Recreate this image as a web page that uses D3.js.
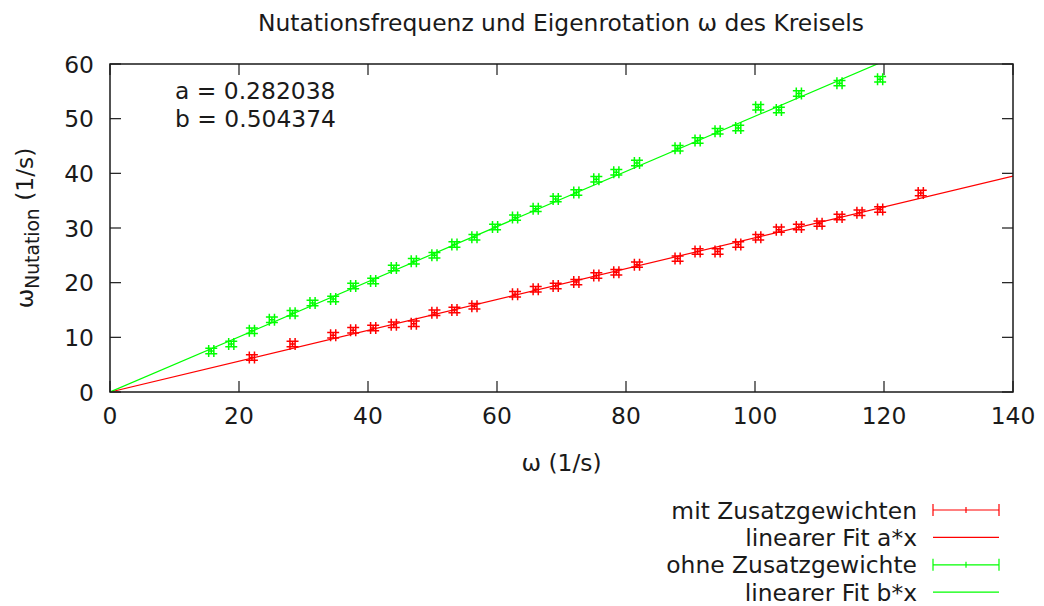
<!DOCTYPE html>
<html>
<head>
<meta charset="utf-8">
<script src="https://cdn.jsdelivr.net/npm/d3@7"></script>
<style>
  html, body { margin: 0; padding: 0; background: #fff; }
  svg { display: block; font-family: "DejaVu Sans", sans-serif; }
</style>
</head>
<body>
<div id="chart"></div>
<script>
// Nutation frequency vs. spin rate of the gyroscope, gnuplot-style, drawn with D3.
(function () {
  "use strict";

  // mit Zusatzgewichten
  var omegaRed = [22.0, 28.3, 34.6, 37.7, 40.8, 44.0, 47.1, 50.3, 53.4, 56.5,
    62.8, 66.0, 69.1, 72.3, 75.4, 78.5, 81.7, 88.0, 91.1, 94.2,
    97.4, 100.5, 103.7, 106.8, 110.0, 113.1, 116.2, 119.4, 125.7];
  var nutRed = [6.3, 8.8, 10.4, 11.3, 11.7, 12.3, 12.5, 14.5, 15.0, 15.7,
    17.9, 18.8, 19.4, 20.1, 21.3, 21.9, 23.3, 24.4, 25.7, 25.7,
    27.0, 28.3, 29.7, 30.2, 30.8, 32.0, 32.8, 33.4, 36.4];

  // ohne Zusatzgewichte
  var omegaGreen = [15.7, 18.8, 22.0, 25.1, 28.3, 31.4, 34.6, 37.7, 40.8, 44.0,
    47.1, 50.3, 53.4, 56.5, 59.7, 62.8, 66.0, 69.1, 72.3, 75.4,
    78.5, 81.7, 88.0, 91.1, 94.2, 97.4, 100.5, 103.7, 106.8, 113.1, 119.4];
  var nutGreen = [7.5, 8.8, 11.2, 13.2, 14.4, 16.3, 17.0, 19.4, 20.3, 22.7,
    23.9, 25.0, 27.0, 28.3, 30.2, 31.9, 33.5, 35.3, 36.5, 38.9,
    40.2, 41.9, 44.6, 46.0, 47.7, 48.3, 52.1, 51.6, 54.6, 56.5, 57.2];

  // measurement uncertainty (same for every point)
  var omegaErr = 0.4;
  var nutErr = 0.5;

  var fitA = 0.282038;
  var fitB = 0.504374;

  var xTicks = [0, 20, 40, 60, 80, 100, 120, 140];
  var yTicks = [0, 10, 20, 30, 40, 50, 60];

  var legendLabels = ["mit Zusatzgewichten", "linearer Fit a*x",
    "ohne Zusatzgewichte", "linearer Fit b*x"];

  var W = 1044, H = 606;
  var m = { left: 110, right: 1013, top: 64, bottom: 392 };
  var RED = "#ff0000", GREEN = "#00ff00", INK = "#1a1a1a";
  var FS = 23.4;
  var CAP = 6;

  var svg = d3.select("#chart").append("svg")
    .attr("width", W).attr("height", H);

  var x = d3.scaleLinear().domain([0, 140]).range([m.left, m.right]);
  var y = d3.scaleLinear().domain([0, 60]).range([m.bottom, m.top]);

  svg.append("defs").append("clipPath").attr("id", "plot-clip")
    .append("rect")
    .attr("x", m.left).attr("y", m.top)
    .attr("width", m.right - m.left).attr("height", m.bottom - m.top);

  // title
  svg.append("text")
    .attr("x", 561).attr("y", 31)
    .attr("text-anchor", "middle")
    .attr("font-size", FS).attr("fill", INK)
    .text("Nutationsfrequenz und Eigenrotation ω des Kreisels");

  // ticks: bottom/top and left/right (mirrored, inward)
  var tickLen = 11;
  var ticks = svg.append("g").attr("stroke", INK).attr("stroke-width", 1.2);
  xTicks.forEach(function (t) {
    ticks.append("line").attr("x1", x(t)).attr("x2", x(t))
      .attr("y1", m.bottom).attr("y2", m.bottom - tickLen);
    ticks.append("line").attr("x1", x(t)).attr("x2", x(t))
      .attr("y1", m.top).attr("y2", m.top + tickLen);
  });
  yTicks.forEach(function (t) {
    ticks.append("line").attr("x1", m.left).attr("x2", m.left + tickLen)
      .attr("y1", y(t)).attr("y2", y(t));
    ticks.append("line").attr("x1", m.right).attr("x2", m.right - tickLen)
      .attr("y1", y(t)).attr("y2", y(t));
  });

  svg.append("g").selectAll("text").data(xTicks).join("text")
    .attr("x", function (d) { return x(d); })
    .attr("y", m.bottom + 32)
    .attr("text-anchor", "middle")
    .attr("font-size", FS).attr("fill", INK)
    .text(function (d) { return d; });

  svg.append("g").selectAll("text").data(yTicks).join("text")
    .attr("x", m.left - 16)
    .attr("y", function (d) { return y(d) + 8.5; })
    .attr("text-anchor", "end")
    .attr("font-size", FS).attr("fill", INK)
    .text(function (d) { return d; });

  // axis labels
  svg.append("text")
    .attr("x", x(70)).attr("y", 471)
    .attr("text-anchor", "middle")
    .attr("font-size", FS).attr("fill", INK)
    .text("ω (1/s)");

  var ylab = svg.append("text")
    .attr("transform", "translate(33,228) rotate(-90)")
    .attr("text-anchor", "middle")
    .attr("font-size", FS).attr("fill", INK);
  ylab.append("tspan").text("ω");
  ylab.append("tspan").attr("font-size", FS * 0.8).attr("dy", 6).text("Nutation");
  ylab.append("tspan").attr("dy", -6).text(" (1/s)");

  // fit parameters
  svg.append("text").attr("x", 175).attr("y", 99)
    .attr("font-size", FS).attr("fill", INK).text("a = " + fitA);
  svg.append("text").attr("x", 175).attr("y", 127)
    .attr("font-size", FS).attr("fill", INK).text("b = " + fitB);

  var plot = svg.append("g").attr("clip-path", "url(#plot-clip)");

  function errorBars(xs, ys, color) {
    var g = plot.append("g").attr("stroke", color).attr("stroke-width", 1.5)
      .attr("fill", "none");
    xs.forEach(function (xv, i) {
      var cx = x(xv), cy = y(ys[i]);
      var x0 = x(xv - omegaErr), x1 = x(xv + omegaErr);
      var y0 = y(ys[i] - nutErr), y1 = y(ys[i] + nutErr);
      var p = "M" + x0 + "," + cy + "H" + x1 +
        "M" + x0 + "," + (cy - CAP) + "V" + (cy + CAP) +
        "M" + x1 + "," + (cy - CAP) + "V" + (cy + CAP) +
        "M" + cx + "," + y0 + "V" + y1 +
        "M" + (cx - CAP) + "," + y0 + "H" + (cx + CAP) +
        "M" + (cx - CAP) + "," + y1 + "H" + (cx + CAP);
      g.append("path").attr("d", p);
    });
  }

  var fitLine = d3.line()
    .x(function (d) { return x(d[0]); })
    .y(function (d) { return y(d[1]); });

  function fit(k, color) {
    var dom = x.domain();
    plot.append("path")
      .attr("d", fitLine([[dom[0], k * dom[0]], [dom[1], k * dom[1]]]))
      .attr("stroke", color).attr("stroke-width", 1.2).attr("fill", "none");
  }

  errorBars(omegaRed, nutRed, RED);
  fit(fitA, RED);
  errorBars(omegaGreen, nutGreen, GREEN);
  fit(fitB, GREEN);

  // border on top
  svg.append("rect")
    .attr("x", m.left).attr("y", m.top)
    .attr("width", m.right - m.left).attr("height", m.bottom - m.top)
    .attr("fill", "none").attr("stroke", INK).attr("stroke-width", 1.5);

  // legend
  var lx0 = 933, lx1 = 999, ltext = 917, ly0 = 510, lstep = 27.4;
  var legendColors = [RED, RED, GREEN, GREEN];
  legendLabels.forEach(function (lab, i) {
    var ly = ly0 + i * lstep;
    svg.append("text").attr("x", ltext).attr("y", ly + 8.5)
      .attr("text-anchor", "end").attr("font-size", FS).attr("fill", INK)
      .text(lab);
    var g = svg.append("g").attr("stroke", legendColors[i]).attr("stroke-width", 1.2);
    g.append("line").attr("x1", lx0).attr("x2", lx1).attr("y1", ly).attr("y2", ly);
    if (i % 2 === 0) {
      g.append("line").attr("x1", lx0).attr("x2", lx0).attr("y1", ly - 6).attr("y2", ly + 6);
      g.append("line").attr("x1", lx1).attr("x2", lx1).attr("y1", ly - 6).attr("y2", ly + 6);
      var mid = (lx0 + lx1) / 2;
      g.append("line").attr("x1", mid).attr("x2", mid).attr("y1", ly - 3).attr("y2", ly + 3);
    }
  });
})();
</script>
</body>
</html>
